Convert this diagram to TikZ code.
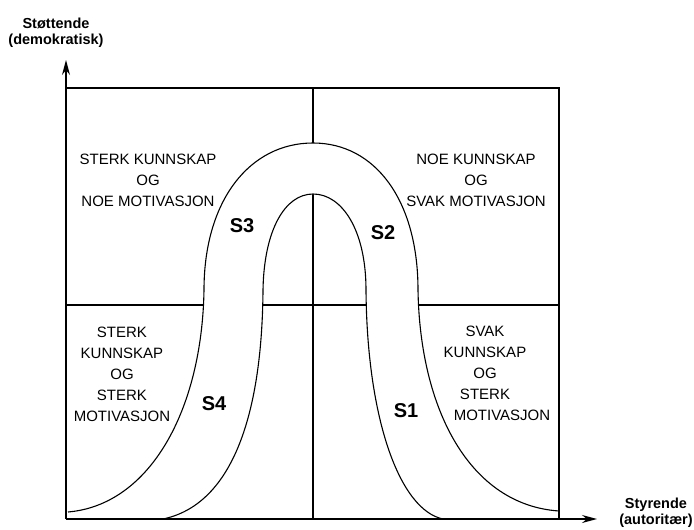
\documentclass[tikz,border=0pt]{standalone}
\usepackage{fontspec}
\setmainfont{Liberation Sans}
\usetikzlibrary{arrows.meta}

\newcommand{\outerbell}{(68,512) .. controls (150,505) and (202,410) .. (204,290)
    .. controls (204,200) and (250,143) .. (313,143)
    .. controls (375,143) and (418,200) .. (418,290)
    .. controls (420,410) and (470,505) .. (559,511)}
\newcommand{\innerbell}{(163,519) .. controls (230,505) and (262,420) .. (263,290)
    .. controls (264,230) and (285,194) .. (313,194)
    .. controls (342,194) and (366,230) .. (366,290)
    .. controls (367,420) and (400,510) .. (443,519)}

\begin{document}
\begin{tikzpicture}[
    x=1pt, y=-1pt,
    line width=1.1pt,
    quadtext/.style={
        align=center,
        font=\fontsize{15}{21}\selectfont
    },
    stagelabel/.style={font=\fontsize{20}{24}\selectfont\bfseries},
    axislabel/.style={
        align=center,
        font=\fontsize{14.5}{16}\selectfont\bfseries
    },
    axis/.style={-{Stealth[length=15pt, width=8pt]}, line width=1.1pt}
]
\useasboundingbox (0,0) rectangle (694,530);

\coordinate (origin) at (66,519);
\coordinate (ytip) at (66,60);
\coordinate (xtip) at (597,519);
\coordinate (topleft) at (66,88);
\coordinate (topright) at (559,88);
\coordinate (botright) at (559,519);
\coordinate (midleft) at (66,305);
\coordinate (midright) at (559,305);
\coordinate (midtop) at (313,88);
\coordinate (midbot) at (313,519);

% cross lines, erased inside the band
\draw (midleft) -- (midright);
\draw (midtop) -- (midbot);
\fill[white, even odd rule] \outerbell -- (559,519) -- (66,519) -- cycle
    \innerbell -- cycle;

% the two bell curves
\draw \outerbell;
\draw \innerbell;

% frame and axes
\draw (topleft) -- (topright) -- (botright);
\draw[axis] (origin) -- (ytip);
\draw[axis] (origin) -- (xtip);

\node[quadtext] (q3) at (148,180) {STERK KUNNSKAP\\OG\\NOE MOTIVASJON};
\node[quadtext] (q2) at (476,180) {NOE KUNNSKAP\\OG\\SVAK MOTIVASJON};
\node[quadtext] (q4) at (122,374) {STERK\\KUNNSKAP\\OG\\STERK\\MOTIVASJON};
\node[quadtext] (q1) at (485,373) {SVAK\\KUNNSKAP\\OG\\STERK\\\hspace*{34pt}MOTIVASJON};

\node[stagelabel] (s3) at (242,226) {S3};
\node[stagelabel] (s2) at (383,233) {S2};
\node[stagelabel] (s4) at (214,404) {S4};
\node[stagelabel] (s1) at (406,411) {S1};

\node[axislabel] (ylabel) at (56,33) {Støttende\\(demokratisk)};
\node[axislabel] (xlabel) at (656,513) {Styrende\\(autoritær)};
\end{tikzpicture}
\end{document}
